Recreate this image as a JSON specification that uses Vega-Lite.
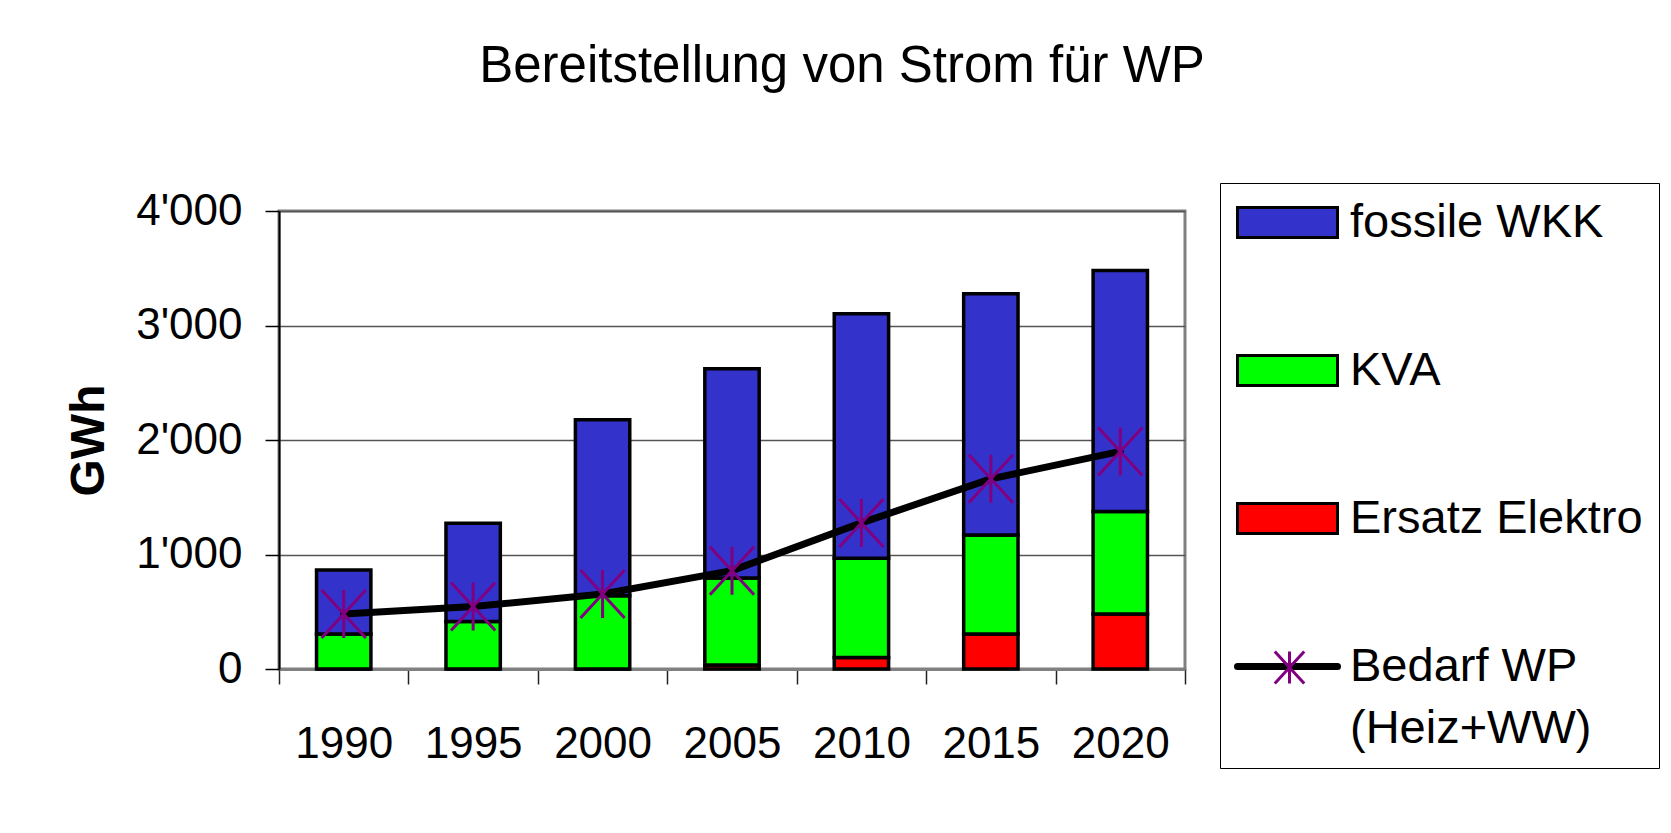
{
  "$schema": "https://vega.github.io/schema/vega-lite/v6.json",
  "width": 906,
  "height": 458,
  "autosize": {"type": "none"},
  "padding": {"left": 279, "top": 211, "right": 486, "bottom": 164},
  "background": "white",
  "config": {
    "font": "Liberation Sans",
    "view": {"stroke": "#808080", "strokeWidth": 3}
  },
  "title": {
    "text": "Bereitstellung von Strom für WP",
    "fontSize": 51,
    "fontWeight": "normal",
    "font": "Liberation Sans",
    "color": "black",
    "anchor": "middle",
    "baseline": "alphabetic",
    "dx": 110,
    "offset": 50
  },
  "datasets": {
    "bars": [
      {"year": "1990", "series": "Ersatz Elektro", "value": 0},
      {"year": "1990", "series": "KVA", "value": 306},
      {"year": "1990", "series": "fossile WKK", "value": 559},
      {"year": "1995", "series": "Ersatz Elektro", "value": 0},
      {"year": "1995", "series": "KVA", "value": 414},
      {"year": "1995", "series": "fossile WKK", "value": 859},
      {"year": "2000", "series": "Ersatz Elektro", "value": 0},
      {"year": "2000", "series": "KVA", "value": 640},
      {"year": "2000", "series": "fossile WKK", "value": 1536},
      {"year": "2005", "series": "Ersatz Elektro", "value": 35},
      {"year": "2005", "series": "KVA", "value": 760},
      {"year": "2005", "series": "fossile WKK", "value": 1827},
      {"year": "2010", "series": "Ersatz Elektro", "value": 100},
      {"year": "2010", "series": "KVA", "value": 867},
      {"year": "2010", "series": "fossile WKK", "value": 2136},
      {"year": "2015", "series": "Ersatz Elektro", "value": 306},
      {"year": "2015", "series": "KVA", "value": 865},
      {"year": "2015", "series": "fossile WKK", "value": 2106},
      {"year": "2020", "series": "Ersatz Elektro", "value": 481},
      {"year": "2020", "series": "KVA", "value": 894},
      {"year": "2020", "series": "fossile WKK", "value": 2106}
    ],
    "bedarf": [
      {"year": "1990", "bedarf": 481},
      {"year": "1995", "bedarf": 545},
      {"year": "2000", "bedarf": 655},
      {"year": "2005", "bedarf": 859},
      {"year": "2010", "bedarf": 1276},
      {"year": "2015", "bedarf": 1661},
      {"year": "2020", "bedarf": 1900}
    ]
  },
  "layer": [
    {
      "data": {"name": "bars"},
      "mark": {"type": "bar", "width": {"band": 0.42}, "stroke": "black", "strokeWidth": 3.5},
      "encoding": {
        "x": {
          "field": "year",
          "type": "nominal",
          "scale": {"paddingInner": 0, "paddingOuter": 0},
          "axis": {
            "title": null,
            "labelAngle": 0,
            "labelFontSize": 44,
            "labelColor": "black",
            "labelBaseline": "top",
            "labelPadding": 38,
            "tickBand": "extent",
            "tickSize": 15,
            "tickColor": "#222222",
            "tickWidth": 1.5,
            "domainColor": "#808080",
            "domainWidth": 3,
            "grid": false
          }
        },
        "y": {
          "field": "value",
          "type": "quantitative",
          "stack": "zero",
          "scale": {"domain": [0, 4000]},
          "axis": {
            "title": "GWh",
            "titleFontSize": 48,
            "titleFontWeight": "bold",
            "titleColor": "black",
            "titlePadding": 22,
            "values": [0, 1000, 2000, 3000, 4000],
            "labelExpr": "replace(format(datum.value, ','), ',', \"'\")",
            "labelFontSize": 44,
            "labelColor": "black",
            "labelPadding": 23,
            "tickSize": 14,
            "tickColor": "black",
            "tickWidth": 1.5,
            "domainColor": "black",
            "domainWidth": 2,
            "grid": true,
            "gridColor": "#555555",
            "gridWidth": 1.5
          }
        },
        "fill": {
          "field": "series",
          "type": "nominal",
          "scale": {
            "domain": ["fossile WKK", "KVA", "Ersatz Elektro", "Bedarf WP (Heiz+WW)"],
            "range": ["#3333CC", "#00FF00", "#FF0000", "#FFFFFF"]
          },
          "legend": {
            "orient": "none",
            "legendX": 941,
            "legendY": -28,
            "title": null,
            "padding": 16,
            "strokeColor": "black",
            "fillColor": "white",
            "labelFontSize": 47,
            "labelColor": "black",
            "labelFont": "Liberation Sans",
            "labelOffset": 39,
            "symbolOffset": 28,
            "labelLimit": 500,
            "symbolSize": 10000,
            "symbolType": "M-1,-0.3H1V0.3H-1Z",
            "symbolStrokeColor": "black",
            "symbolStrokeWidth": 3,
            "symbolOpacity": 1,
            "rowPadding": 100,
            "labelExpr": "datum.label == 'Bedarf WP (Heiz+WW)' ? ['Bedarf WP', '(Heiz+WW)'] : datum.label",
            "encode": {
              "symbols": {
                "update": {
                  "shape": {"signal": "datum.value == 'Bedarf WP (Heiz+WW)' ? 'M-1,0H1' : 'M-1,-0.3H1V0.3H-1Z'"},
                  "strokeWidth": {"signal": "datum.value == 'Bedarf WP (Heiz+WW)' ? 7 : 3"},
                  "stroke": {"value": "black"},
                  "strokeCap": {"value": "round"}
                }
              },
              "labels": {
                "update": {
                  "lineHeight": {"value": 62}
                }
              }
            }
          }
        },
        "order": {"field": "series", "sort": "ascending"}
      }
    },
    {
      "data": {"name": "bedarf"},
      "mark": {"type": "line", "color": "black", "strokeWidth": 7, "strokeCap": "round", "strokeJoin": "round"},
      "encoding": {
        "x": {"field": "year", "type": "nominal"},
        "y": {"field": "bedarf", "type": "quantitative"}
      }
    },
    {
      "data": {"name": "bedarf"},
      "mark": {
        "type": "point",
        "shape": "M0,-1V1M-0.92,-1L0.92,1M-0.92,1L0.92,-1",
        "size": 2304,
        "filled": false,
        "strokeWidth": 3,
        "opacity": 1
      },
      "encoding": {
        "x": {"field": "year", "type": "nominal"},
        "y": {"field": "bedarf", "type": "quantitative"},
        "stroke": {
          "datum": "Bedarf WP (Heiz+WW)",
          "scale": {"range": ["#800080"]},
          "legend": {
            "orient": "none",
            "legendX": 993,
            "legendY": 439,
            "title": null,
            "padding": 0,
            "labelExpr": "''",
            "symbolType": "M0,-1V1M-0.92,-1L0.92,1M-0.92,1L0.92,-1",
            "symbolSize": 1024,
            "symbolStrokeWidth": 3,
            "symbolOpacity": 1
          }
        }
      }
    }
  ]
}
